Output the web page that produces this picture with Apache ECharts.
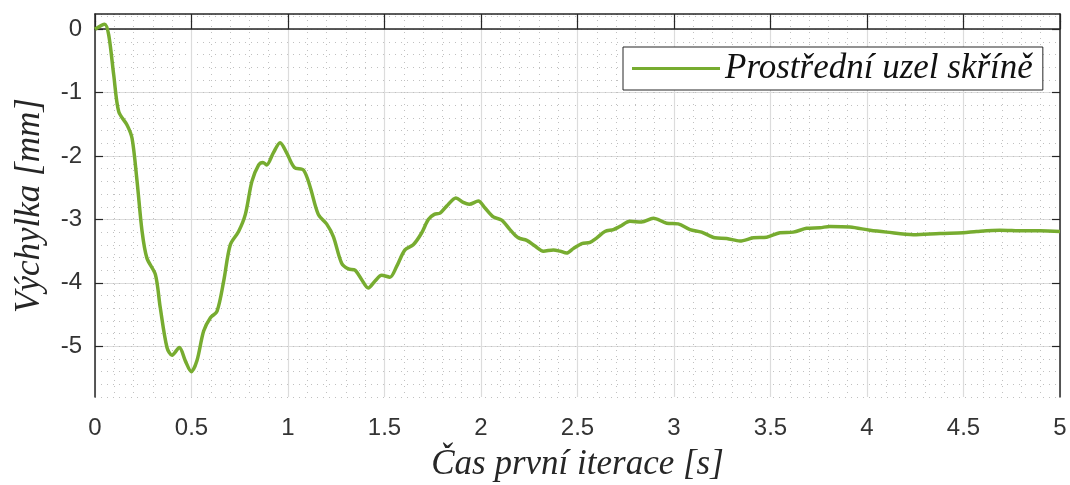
<!DOCTYPE html>
<html>
<head>
<meta charset="utf-8">
<script src="https://cdn.jsdelivr.net/npm/echarts@6/dist/echarts.min.js"></script>
<style>html,body{margin:0;padding:0;background:#fff}#c{width:1070px;height:485px}</style>
</head>
<body>
<div id="c"></div>
<script>
const seriesName = 'Prostřední uzel skříně';
const xTitle = 'Čas první iterace [s]';
const yTitle = 'Výchylka [mm]';
const yTickValues = [-5, -4, -3, -2, -1, 0];
const timeS = [0, 0.05, 0.071, 0.097, 0.123, 0.166, 0.192, 0.218, 0.244, 0.269, 0.313, 0.338, 0.373, 0.399, 0.437, 0.468, 0.499, 0.528, 0.563, 0.598, 0.632, 0.667, 0.701, 0.744, 0.779, 0.813, 0.848, 0.870, 0.889, 0.924, 0.959, 0.993, 1.033, 1.080, 1.114, 1.157, 1.200, 1.235, 1.278, 1.313, 1.347, 1.382, 1.416, 1.451, 1.485, 1.528, 1.563, 1.606, 1.649, 1.693, 1.727, 1.758, 1.788, 1.822, 1.870, 1.908, 1.939, 1.986, 2.021, 2.064, 2.107, 2.150, 2.193, 2.237, 2.280, 2.323, 2.375, 2.409, 2.444, 2.478, 2.522, 2.565, 2.600, 2.642, 2.686, 2.720, 2.772, 2.832, 2.893, 2.962, 3.022, 3.083, 3.143, 3.212, 3.273, 3.342, 3.411, 3.480, 3.549, 3.618, 3.687, 3.756, 3.808, 3.912, 4.016, 4.102, 4.240, 4.378, 4.499, 4.568, 4.689, 4.810, 4.896, 5.0];
const deflection = [0, 0.08, -0.09, -0.72, -1.30, -1.51, -1.72, -2.40, -3.19, -3.61, -3.87, -4.39, -5.02, -5.14, -5.02, -5.23, -5.40, -5.23, -4.76, -4.55, -4.45, -3.97, -3.40, -3.19, -2.92, -2.40, -2.14, -2.10, -2.14, -1.95, -1.79, -1.95, -2.18, -2.22, -2.48, -2.92, -3.07, -3.27, -3.69, -3.78, -3.80, -3.95, -4.08, -3.97, -3.88, -3.91, -3.74, -3.48, -3.40, -3.21, -3.00, -2.92, -2.90, -2.79, -2.66, -2.73, -2.76, -2.71, -2.82, -2.96, -3.01, -3.16, -3.29, -3.33, -3.42, -3.50, -3.48, -3.50, -3.53, -3.46, -3.38, -3.36, -3.29, -3.19, -3.16, -3.11, -3.03, -3.04, -2.98, -3.06, -3.07, -3.16, -3.20, -3.29, -3.30, -3.34, -3.29, -3.28, -3.21, -3.20, -3.14, -3.13, -3.11, -3.12, -3.17, -3.20, -3.24, -3.22, -3.21, -3.19, -3.17, -3.18, -3.18, -3.19];

const data = timeS.map((t, i) => [t, deflection[i]]);
const axisCol = '#262626';
const titleFont = { fontFamily: 'Liberation Serif', fontStyle: 'italic', fontSize: 35, color: '#262626' };
const tickFont = { fontFamily: 'Liberation Sans', fontSize: 24, color: '#333333' };
const chart = echarts.init(document.getElementById('c'), null, { renderer: 'canvas' });
chart.setOption({
  animation: false,
  backgroundColor: '#ffffff',
  grid: { left: 95, right: 10, top: 14, bottom: 88, containLabel: false, outerBoundsMode: 'none' },
  legend: {
    left: 623, top: 47,
    padding: [4, 10, 4, 9],
    backgroundColor: '#ffffff',
    borderColor: axisCol, borderWidth: 1,
    icon: 'rect', itemWidth: 88, itemHeight: 3,
    textStyle: Object.assign({}, titleFont, { color: '#111111' }),
    data: [seriesName]
  },
  xAxis: [{
    type: 'value', min: 0, max: 5, interval: 0.5, position: 'bottom',
    name: xTitle, nameLocation: 'middle', nameGap: 50, nameTextStyle: titleFont,
    axisLine: { show: true, lineStyle: { color: axisCol, width: 1.5 } },
    axisTick: { show: true, inside: true, length: 8, lineStyle: { color: axisCol, width: 1.2 } },
    axisLabel: Object.assign({ margin: 19 }, tickFont),
    splitLine: { show: true, lineStyle: { color: '#dcdcdc', width: 1.2 } },
    minorTick: { show: false, splitNumber: 5 },
    minorSplitLine: { show: true, lineStyle: { color: '#c0c0c0', width: 1, type: [1, 5] } }
  }, {
    type: 'value', min: 0, max: 5, interval: 0.5, position: 'top',
    axisLine: { show: true, onZero: false, lineStyle: { color: axisCol, width: 1.5 } },
    axisTick: { show: true, inside: true, length: 8, lineStyle: { color: axisCol, width: 1.2 } },
    axisLabel: { show: false }, splitLine: { show: false }
  }],
  yAxis: [{
    type: 'value', min: -5.8, max: 0.24, position: 'left',
    name: yTitle, nameLocation: 'middle', nameRotate: 90, nameGap: 48, nameTextStyle: titleFont,
    axisLine: { show: true, onZero: false, lineStyle: { color: axisCol, width: 1.5 } },
    axisTick: { show: true, inside: true, length: 8, customValues: yTickValues, lineStyle: { color: axisCol, width: 1.2 } },
    axisLabel: Object.assign({ margin: 13, customValues: yTickValues }, tickFont),
    splitLine: { show: true, lineStyle: { color: '#dcdcdc', width: 1.2 } }
  }, {
    type: 'value', min: -5.8, max: 0.24, interval: 0.2, position: 'left',
    axisLine: { show: false }, axisTick: { show: false }, axisLabel: { show: false },
    splitLine: { show: true, lineStyle: { color: '#c0c0c0', width: 1, type: [1, 5] } }
  }, {
    type: 'value', min: -5.8, max: 0.24, position: 'right',
    axisLine: { show: true, onZero: false, lineStyle: { color: axisCol, width: 1.5 } },
    axisTick: { show: true, inside: true, length: 8, customValues: yTickValues, lineStyle: { color: axisCol, width: 1.2 } },
    axisLabel: { show: false }, splitLine: { show: false }
  }],
  series: [{
    name: seriesName, type: 'line', xAxisIndex: 0, yAxisIndex: 0,
    data: data, showSymbol: false, smooth: 0.3,
    lineStyle: { color: '#77ac30', width: 3.5 }, itemStyle: { color: '#77ac30' }, z: 5
  }]
});
</script>
</body>
</html>
